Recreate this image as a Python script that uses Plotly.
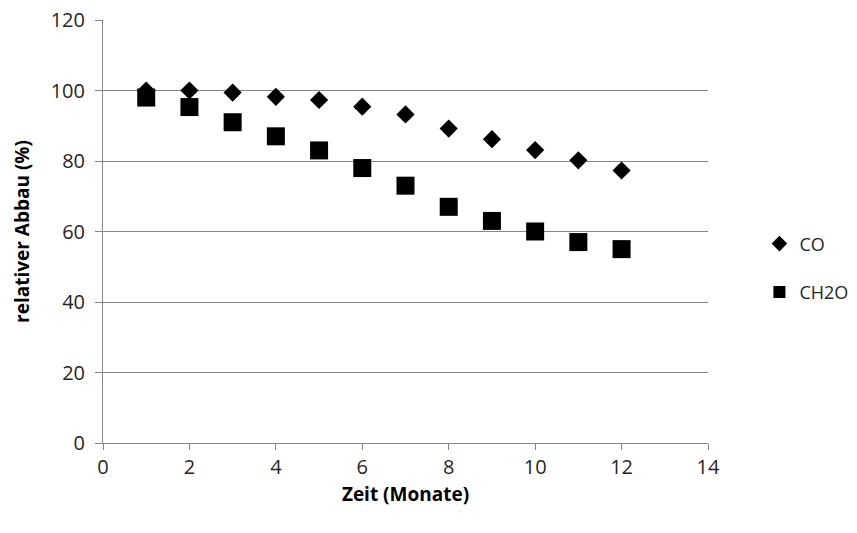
import plotly.graph_objects as go

# Monthly degradation data
months = [1, 2, 3, 4, 5, 6, 7, 8, 9, 10, 11, 12]
co_values = [100, 100, 99.4, 98.2, 97.3, 95.4, 93.2, 89.2, 86.2, 83.1, 80.2, 77.3]
ch2o_values = [98, 95.3, 91, 87, 83, 78, 73, 67, 63, 60, 57, 55]

x_ticks = [0, 2, 4, 6, 8, 10, 12, 14]
y_ticks = [0, 20, 40, 60, 80, 100, 120]

font_family = "Open Sans, Liberation Sans, sans-serif"

fig = go.Figure()
fig.add_trace(go.Scatter(
    x=months, y=co_values, mode="markers", name="CO", legendgroup="a",
    marker=dict(symbol="diamond", size=14, color="black"),
))
fig.add_trace(go.Scatter(
    x=months, y=ch2o_values, mode="markers", name="CH2O", legendgroup="b",
    marker=dict(symbol="square", size=18, color="black"),
))

fig.update_layout(
    width=857, height=533,
    margin=dict(l=103, r=149, t=20, b=90, autoexpand=False),
    plot_bgcolor="white", paper_bgcolor="white",
    font=dict(family=font_family, size=20, color="#262626"),
    showlegend=True,
    legend=dict(
        x=1.085, y=0.414, xanchor="left", yanchor="middle",
        font=dict(size=18, color="#262626"),
        tracegroupgap=22, itemsizing="constant",
    ),
    xaxis=dict(
        range=[0, 14], tickvals=x_ticks, showgrid=False, zeroline=False,
        showline=True, linecolor="#868686", linewidth=1,
        ticks="outside", ticklen=6, tickcolor="#868686",
        tickfont=dict(size=20), automargin=False,
        title=dict(text="<b>Zeit (Monate)</b>", font=dict(size=19, color="#000"), standoff=8),
    ),
    yaxis=dict(
        range=[0, 120], tickvals=y_ticks, showgrid=True, gridcolor="#868686", gridwidth=1,
        zeroline=False, showline=True, linecolor="#868686", linewidth=1,
        ticks="outside", ticklen=7, tickcolor="#868686", ticklabelstandoff=6,
        tickfont=dict(size=20), automargin=False,
        title=dict(text="<b>relativer Abbau (%)</b>", font=dict(size=19, color="#000"), standoff=16),
    ),
)

fig.write_html("out.html")
